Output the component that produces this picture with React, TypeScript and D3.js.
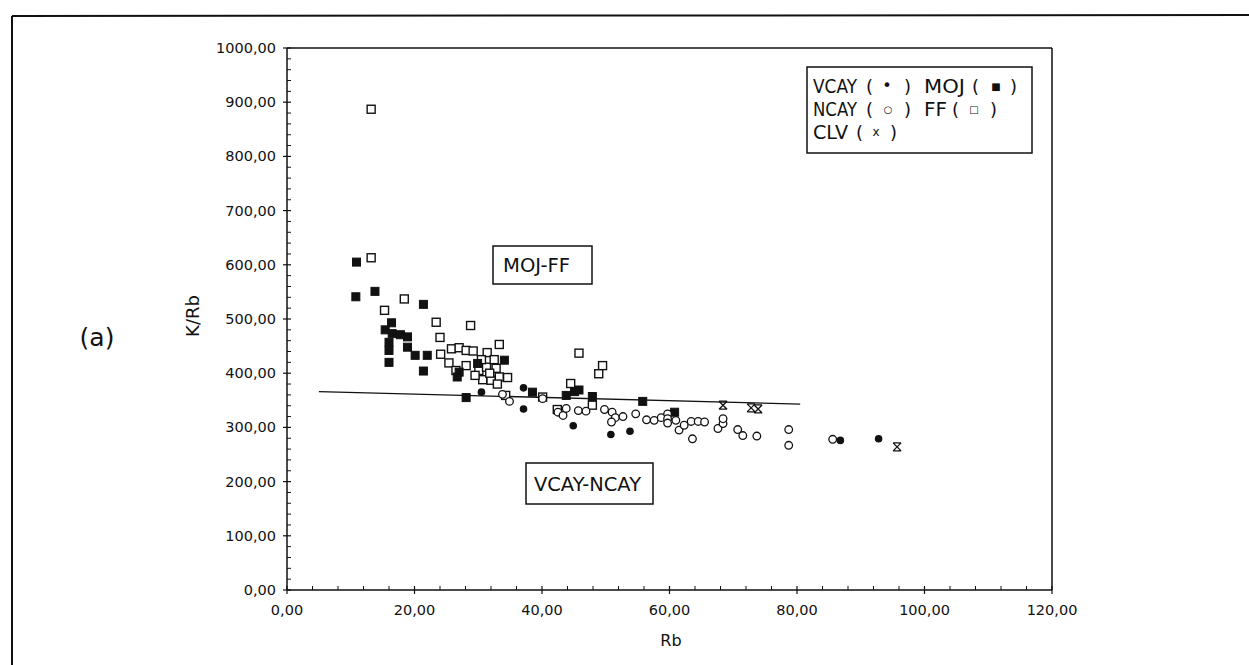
import React from 'react';
import * as d3 from 'd3';

// ---- data (Rb, K/Rb) ----
const vcayX = [30.5, 37.1, 37.1, 44.9, 50.8, 53.8, 86.8, 92.8];
const vcayY = [365, 373, 334, 303, 287, 293, 276, 279];

const mojX = [10.9, 10.8, 13.8, 21.4, 16.4, 15.4, 16.5, 17.8, 18.9, 16.0, 18.9, 16.0, 20.1, 22.0, 16.0, 21.4, 27.0, 26.7, 29.9, 34.1, 38.5, 28.1, 43.8, 45.1, 45.8, 47.9, 55.8, 60.8];
const mojY = [605, 541, 551, 527, 493, 480, 473, 471, 467, 457, 448, 442, 433, 433, 420, 404, 402, 393, 418, 424, 365, 355, 359, 366, 369, 357, 348, 328];

const ffX = [13.2, 13.2, 15.3, 18.4, 23.4, 28.8, 24.0, 33.3, 25.8, 27.0, 28.1, 29.2, 31.4, 24.1, 25.4, 28.1, 26.5, 30.1, 31.3, 32.8, 33.3, 34.6, 30.7, 32.0, 33.0, 45.8, 49.5, 48.9, 44.5, 40.1, 42.4, 47.9, 34.3, 30.5, 32.5, 29.5, 31.8];
const ffY = [887, 613, 516, 537, 494, 488, 466, 453, 445, 447, 442, 441, 438, 435, 419, 414, 405, 405, 411, 409, 393, 392, 388, 387, 380, 437, 414, 399, 381, 356, 333, 341, 359, 425, 425, 396, 400];

const ncayX = [33.8, 34.9, 40.1, 42.5, 43.3, 43.8, 45.7, 46.9, 49.8, 51.0, 51.5, 50.9, 52.7, 54.7, 56.4, 57.6, 58.7, 59.7, 59.7, 59.7, 61.0, 61.5, 62.3, 63.4, 64.5, 65.5, 63.6, 67.6, 68.4, 68.4, 70.7, 71.5, 73.7, 78.7, 78.7, 85.6];
const ncayY = [361, 348, 353, 328, 322, 335, 331, 330, 333, 328, 318, 310, 320, 325, 314, 313, 318, 325, 316, 308, 313, 295, 304, 311, 311, 310, 279, 298, 307, 316, 296, 285, 284, 296, 267, 278];

const clvX = [68.4, 72.8, 73.9, 95.7];
const clvY = [341, 336, 334, 264];

const fitX = [5, 80.5];
const fitY = [366, 343];

const xTicks = [0, 20, 40, 60, 80, 100, 120];
const yTicks = [0, 100, 200, 300, 400, 500, 600, 700, 800, 900, 1000];

const FONT = 'DejaVu Sans';

function Txt(props: any) {
  const { x, y, size, len, anchor, children, rotate } = props;
  return (
    <text
      x={x}
      y={y}
      fontSize={size}
      fontFamily={FONT}
      textAnchor={anchor || 'start'}
      textLength={len}
      lengthAdjust={len ? 'spacingAndGlyphs' : undefined}
      transform={rotate ? `rotate(${rotate},${x},${y})` : undefined}
      fill="#111"
    >
      {children}
    </text>
  );
}

export default function App() {
  const x = d3.scaleLinear().domain([0, 120]).range([287, 1052]);
  const y = d3.scaleLinear().domain([0, 1000]).range([590, 48]);
  const fmt = (v: number) => d3.format('.2f')(v).replace('.', ',');
  const yMinor = d3.range(0, 1001, 20).filter((v) => v % 100 !== 0);
  const xMinor = d3.range(0, 121, 4).filter((v) => v % 20 !== 0);
  const line = d3.line<number>().x((_, i) => x(fitX[i])).y((_, i) => y(fitY[i]));
  const sq = 8;
  const stroke = '#111';

  return (
    <svg width={1249} height={665} style={{ position: 'absolute', left: 0, top: 0, background: '#fff' }}>
      <rect x={0} y={0} width={1249} height={665} fill="#fff" />
      {/* outer frame */}
      <line x1={12} y1={16} x2={1249} y2={15} stroke={stroke} strokeWidth={2} />
      <line x1={12} y1={16} x2={12} y2={665} stroke={stroke} strokeWidth={2} />

      {/* plot frame */}
      <line x1={x(0)} y1={y(1000)} x2={x(120)} y2={y(1000)} stroke={stroke} strokeWidth={1.5} />
      <line x1={x(120)} y1={y(1000)} x2={x(120)} y2={y(0)} stroke={stroke} strokeWidth={1.5} />
      <line x1={x(0)} y1={y(0)} x2={x(120)} y2={y(0)} stroke={stroke} strokeWidth={1.5} />
      <line x1={x(0)} y1={y(0)} x2={x(0)} y2={y(1000)} stroke={stroke} strokeWidth={1.5} />

      {/* y ticks */}
      {yTicks.map((v) => (
        <g key={'yt' + v}>
          <line x1={x(0) - 4} x2={x(0) + 4} y1={y(v)} y2={y(v)} stroke={stroke} strokeWidth={1.2} />
          <Txt x={x(0) - 11} y={y(v) + 5} size={14.5} anchor="end">{fmt(v)}</Txt>
        </g>
      ))}
      {yMinor.map((v) => (
        <line key={'ym' + v} x1={x(0)} x2={x(0) + 4} y1={y(v)} y2={y(v)} stroke={stroke} strokeWidth={1} />
      ))}
      {/* x ticks */}
      {xTicks.map((v) => (
        <g key={'xt' + v}>
          <line x1={x(v)} x2={x(v)} y1={y(0) - 4} y2={y(0) + 4} stroke={stroke} strokeWidth={1.2} />
          <Txt x={x(v)} y={y(0) + 25} size={14.5} anchor="middle">{fmt(v)}</Txt>
        </g>
      ))}
      {xMinor.map((v) => (
        <line key={'xm' + v} x1={x(v)} x2={x(v)} y1={y(0)} y2={y(0) - 4} stroke={stroke} strokeWidth={1} />
      ))}

      {/* axis titles */}
      <Txt x={671} y={646} size={16} anchor="middle">Rb</Txt>
      <Txt x={199} y={316} size={18} anchor="middle" rotate={-90}>K/Rb</Txt>
      <Txt x={97} y={346} size={25} anchor="middle">(a)</Txt>

      {/* fit line */}
      <path d={line([0, 1]) || ''} fill="none" stroke={stroke} strokeWidth={1.4} />

      {/* FF open squares */}
      {ffX.map((v, i) => (
        <rect key={'ff' + i} x={x(v) - sq / 2} y={y(ffY[i]) - sq / 2} width={sq} height={sq} fill="#fff" stroke={stroke} strokeWidth={1.4} />
      ))}
      {/* MOJ filled squares */}
      {mojX.map((v, i) => (
        <rect key={'mo' + i} x={x(v) - sq / 2} y={y(mojY[i]) - sq / 2} width={sq} height={sq} fill={stroke} stroke={stroke} strokeWidth={1} />
      ))}
      {/* NCAY open circles */}
      {ncayX.map((v, i) => (
        <circle key={'nc' + i} cx={x(v)} cy={y(ncayY[i])} r={3.8} fill="#fff" stroke={stroke} strokeWidth={1.3} />
      ))}
      {/* VCAY filled circles */}
      {vcayX.map((v, i) => (
        <circle key={'vc' + i} cx={x(v)} cy={y(vcayY[i])} r={3.8} fill={stroke} />
      ))}
      {/* CLV */}
      {clvX.map((v, i) => {
        const cx = x(v), cy = y(clvY[i]), s = 4;
        return (
          <path key={'cl' + i}
            d={`M${cx - s},${cy - s}L${cx + s},${cy - s}M${cx - s},${cy - s}L${cx + s},${cy + s}M${cx + s},${cy - s}L${cx - s},${cy + s}M${cx - s},${cy + s}L${cx + s},${cy + s}`}
            stroke={stroke} strokeWidth={1.3} fill="none" />
        );
      })}

      {/* region labels */}
      <rect x={493} y={246} width={99} height={38} fill="#fff" stroke={stroke} strokeWidth={1.5} />
      <Txt x={503} y={272} size={20} len={67}>MOJ-FF</Txt>
      <rect x={526} y={463} width={127} height={41} fill="#fff" stroke={stroke} strokeWidth={1.5} />
      <Txt x={534} y={491} size={20} len={107}>VCAY-NCAY</Txt>

      {/* legend */}
      <rect x={807} y={67} width={225} height={86} fill="#fff" stroke={stroke} strokeWidth={1.5} />
      <Txt x={813} y={93} size={20} len={44}>VCAY</Txt>
      <Txt x={866} y={93} size={18}>(</Txt>
      <Txt x={887} y={91} size={16} anchor="middle">•</Txt>
      <Txt x={904} y={93} size={18}>)</Txt>
      <Txt x={924} y={93} size={20} len={41}>MOJ</Txt>
      <Txt x={972} y={93} size={18}>(</Txt>
      <Txt x={996} y={90} size={10} anchor="middle">■</Txt>
      <Txt x={1010} y={93} size={18}>)</Txt>

      <Txt x={813} y={116} size={20} len={44}>NCAY</Txt>
      <Txt x={866} y={116} size={18}>(</Txt>
      <Txt x={888} y={113} size={10} anchor="middle">○</Txt>
      <Txt x={904} y={116} size={18}>)</Txt>
      <Txt x={924} y={116} size={20} len={23}>FF</Txt>
      <Txt x={952} y={116} size={18}>(</Txt>
      <Txt x={974} y={113} size={10} anchor="middle">□</Txt>
      <Txt x={990} y={116} size={18}>)</Txt>

      <Txt x={813} y={139} size={20} len={35}>CLV</Txt>
      <Txt x={856} y={139} size={18}>(</Txt>
      <Txt x={876} y={136} size={12} anchor="middle">x</Txt>
      <Txt x={890} y={139} size={18}>)</Txt>
    </svg>
  );
}
